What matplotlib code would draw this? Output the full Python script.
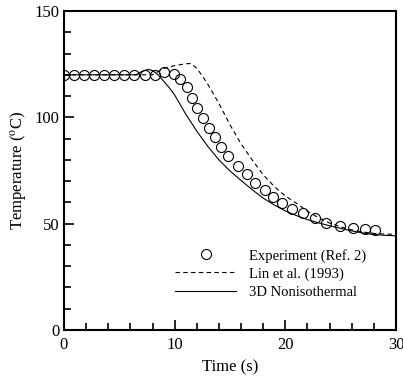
import matplotlib
matplotlib.use("Agg")
import matplotlib.pyplot as plt
from matplotlib.ticker import MultipleLocator

plt.rcParams['font.family'] = 'Liberation Serif'
plt.rcParams['mathtext.fontset'] = 'stix'

# experiment (Ref. 2)
exp_t = [0, 0.9, 1.8, 2.7, 3.6, 4.5, 5.4, 6.3, 7.3, 8.2, 9.0, 9.9, 10.5, 11.1,
         11.6, 12.0, 12.6, 13.1, 13.6, 14.2, 14.8, 15.7, 16.5, 17.3, 18.2, 18.9,
         19.7, 20.6, 21.6, 22.7, 23.7, 24.9, 26.1, 27.2, 28.1]
exp_T = [120, 120, 120, 120, 120, 120, 120, 120, 120, 120, 121.5, 120.4, 117.8,
         114.1, 108.9, 104.2, 99.5, 94.8, 90.6, 86.2, 81.8, 77.3, 73.2, 69.3, 65.8,
         62.7, 59.9, 56.7, 54.9, 52.5, 50.5, 48.9, 48.1, 47.3, 47]

# Lin et al. (1993)
lin_t = [0, 8.0, 8.5, 9.0, 10.0, 11.0, 11.5, 12.0, 12.5, 13.0, 14.0, 15.0, 16.0,
         17.0, 18.0, 19.0, 20.0, 21.0, 22.0, 23.0, 24.0, 25.0, 26.0, 27.0, 28.0,
         29.0, 30.0]
lin_T = [120, 120, 121.5, 123, 124.3, 125.2, 125.3, 123, 119.5, 115.5, 106.5, 96.5,
         87.5, 80, 73, 67.5, 63, 59.6, 55.8, 52.8, 50.3, 48.5, 47.1, 46.1, 45.4,
         45.1, 45]

# 3D nonisothermal
sim_t = [0, 6.5, 7.0, 7.6, 8.0, 8.5, 9.0, 9.5, 10.0, 11.0, 12.0, 13.0, 14.0, 15.0,
         16.0, 17.0, 18.0, 19.0, 20.0, 21.0, 22.0, 23.0, 24.0, 25.0, 26.0, 27.0,
         28.0, 29.0, 30.0]
sim_T = [120, 120, 121.5, 122.6, 122, 120, 117, 114, 110.5, 101.5, 93.5, 86.3, 80,
         74.8, 70.3, 66, 62, 58.8, 56, 53.8, 51.9, 50.4, 49, 47.8, 46.6, 45.6, 44.9,
         44.5, 44.3]

fig = plt.figure(figsize=(4.03, 3.81), dpi=100)
ax = fig.add_axes([64/403, 51/381, 332/403, 319/381])

ax.plot(exp_t, exp_T, 'o', mfc='none', mec='black', ms=7.2, mew=0.8,
        label='Experiment (Ref. 2)')
ax.plot(lin_t, lin_T, color='black', ls=(0, (4, 3)), lw=0.8, label='Lin et al. (1993)')
ax.plot(sim_t, sim_T, color='black', lw=0.8, label='3D Nonisothermal')

ax.set_xlim(0, 30)
ax.set_ylim(0, 150)
ax.xaxis.set_major_locator(MultipleLocator(10))
ax.xaxis.set_minor_locator(MultipleLocator(2))
ax.yaxis.set_major_locator(MultipleLocator(50))
ax.yaxis.set_minor_locator(MultipleLocator(10))
ax.tick_params(which='both', direction='in', top=False, right=False,
               labelsize=12, width=1.2)
ax.tick_params(which='major', length=7)
ax.tick_params(which='minor', length=5)
ax.tick_params(axis='x', which='major', pad=5)
ax.tick_params(axis='y', which='major', pad=3)
for s in ax.spines.values():
    s.set_linewidth(1.5)

ax.set_xlabel('Time (s)', fontsize=12, labelpad=5)
ax.set_ylabel(r'Temperature ($^{\rm o}$C)', fontsize=12, labelpad=4)

ax.legend(loc='upper left', bbox_to_anchor=(0.334, 0.255), frameon=False,
          borderpad=0, borderaxespad=0, fontsize=10.5, numpoints=1,
          handlelength=4.2, handletextpad=0.9, labelspacing=0.32)

fig.savefig('out.png', dpi=100)
